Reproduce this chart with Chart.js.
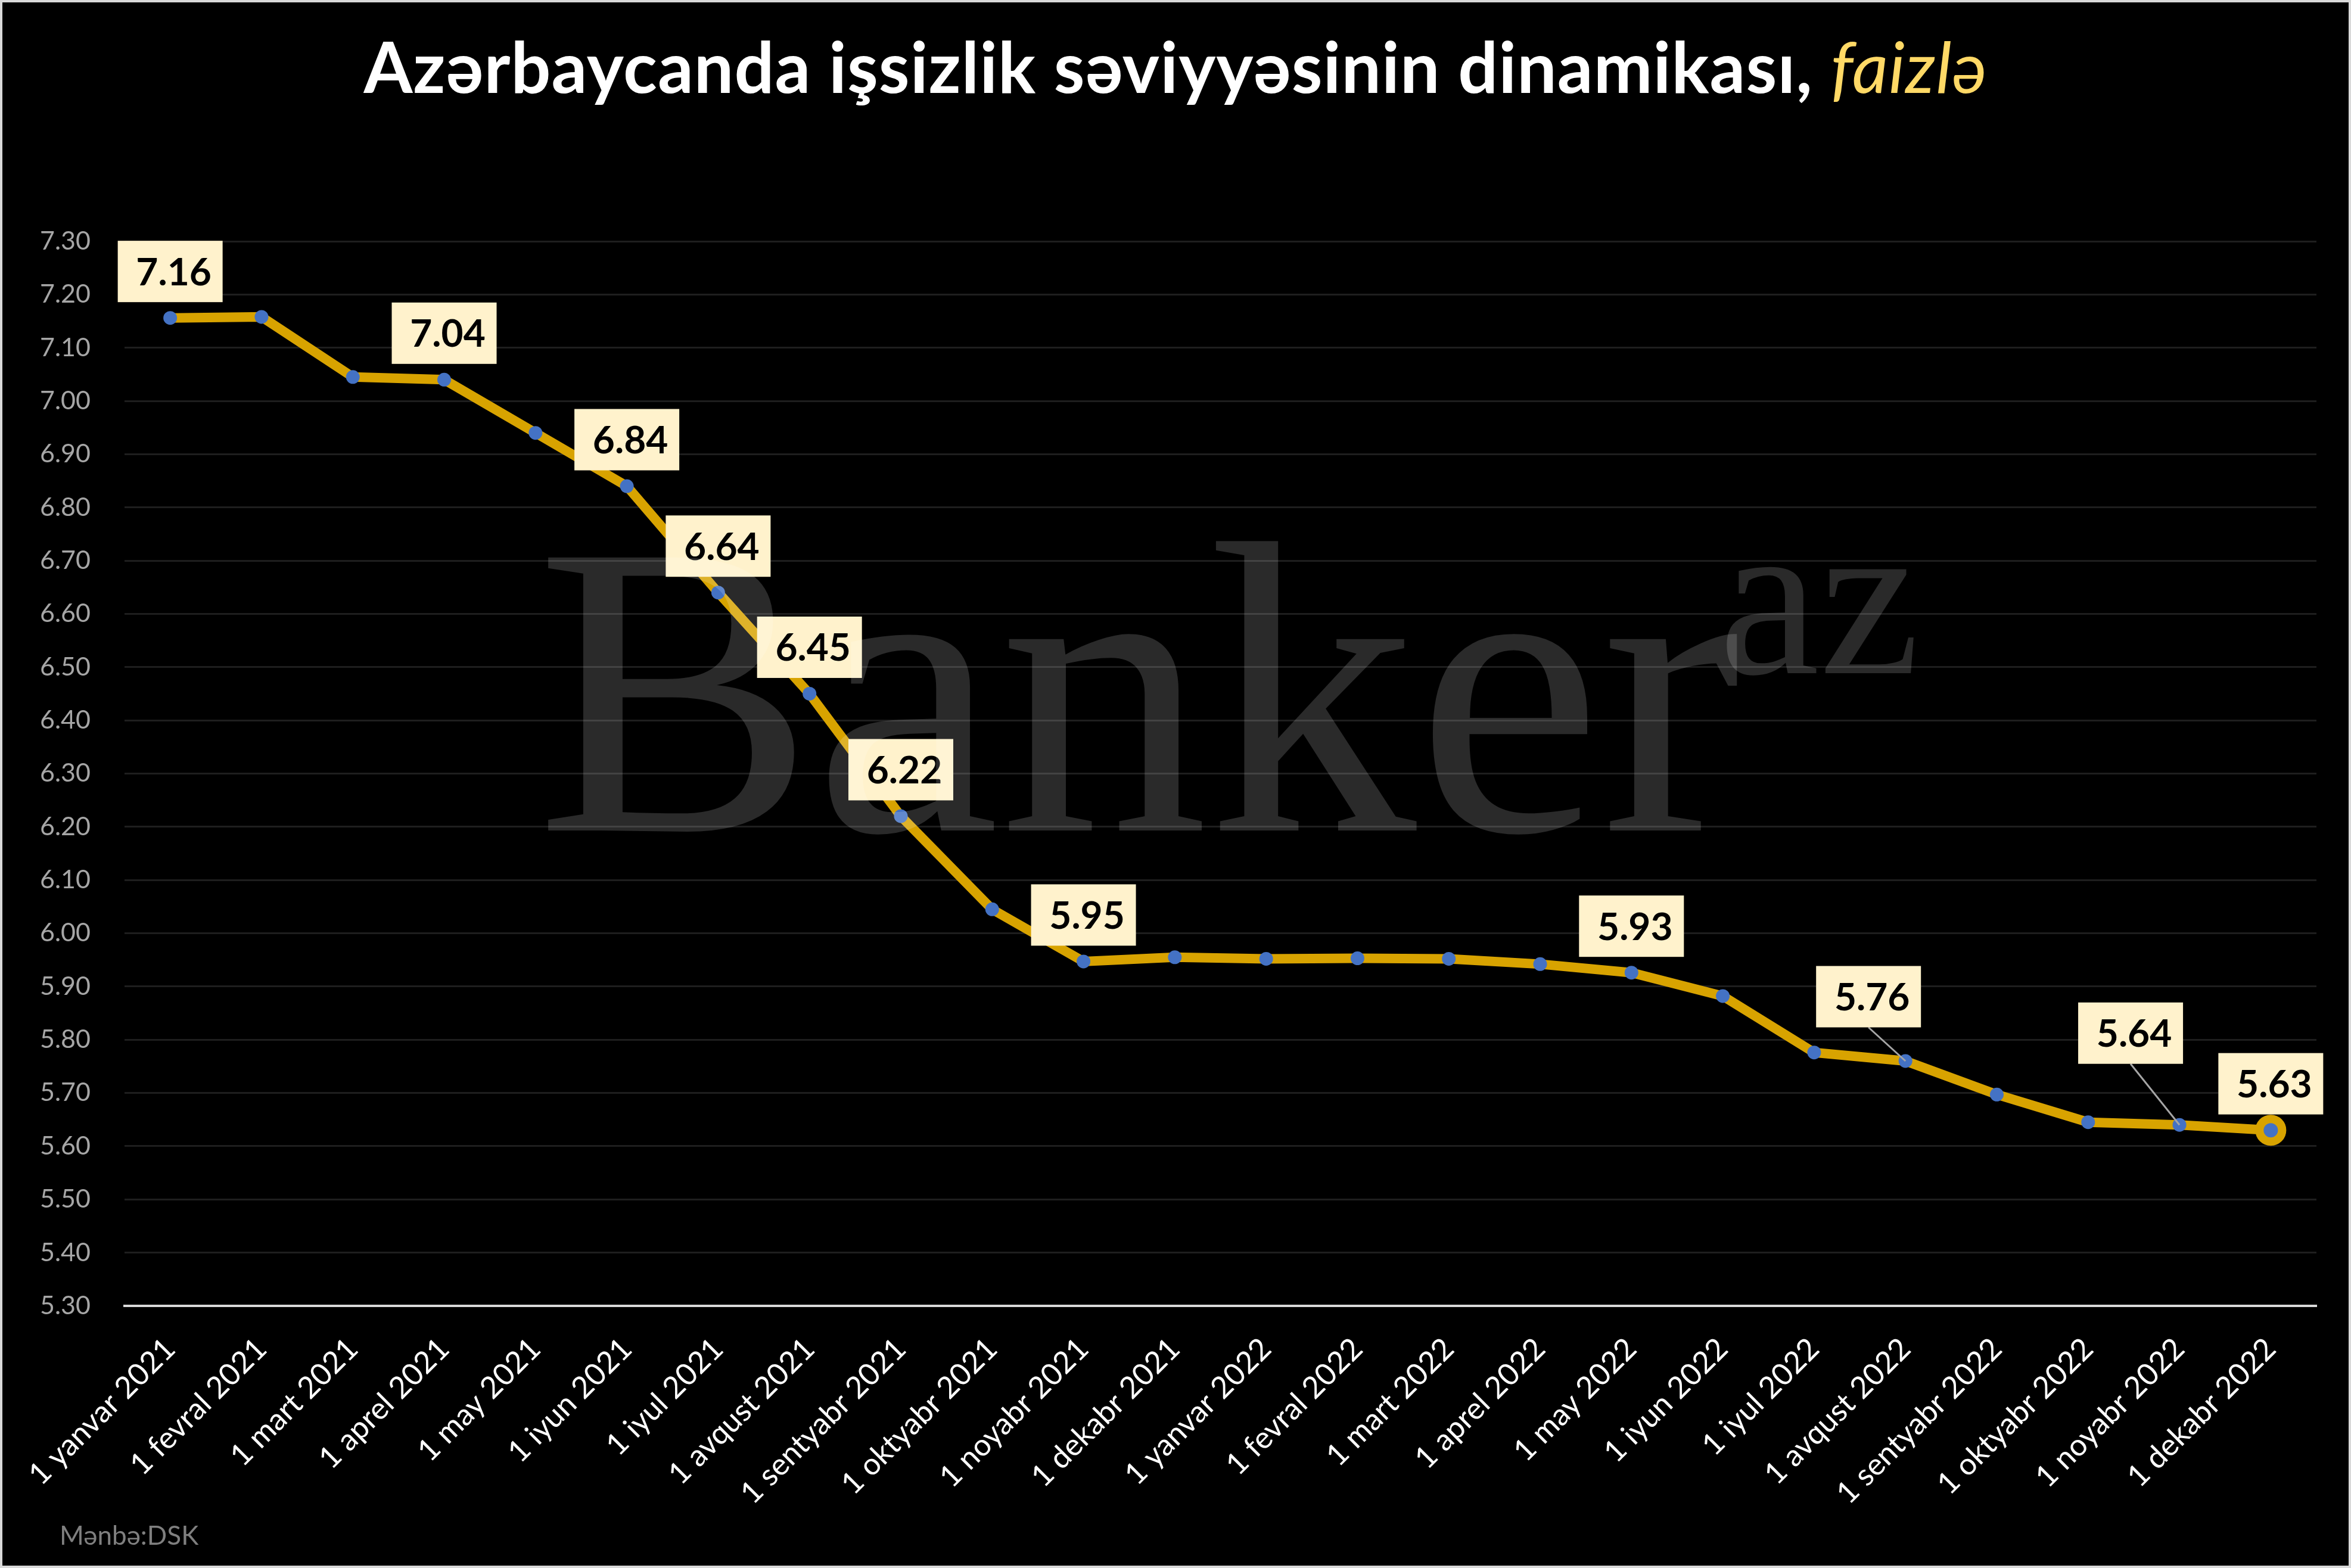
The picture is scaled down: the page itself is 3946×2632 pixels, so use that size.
<!DOCTYPE html>
<html>
<head>
<meta charset="utf-8">
<script src="https://cdn.jsdelivr.net/npm/chart.js"></script>
<style>
  html, body { margin: 0; padding: 0; background: #000; }
  #wrap { position: relative; width: 3946px; height: 2632px; background: #000; overflow: hidden; }
  #frame { position: absolute; left: 0; top: 0; width: 3938px; height: 2624px; border: 4px solid #d9d9d9; pointer-events: none; }
  #title { position: absolute; left: 0; top: 52px; width: 3946px; text-align: center;
           font-family: Lato, sans-serif; font-weight: bold; font-size: 118px; line-height: 118px; color: #fff; letter-spacing: 1px; }
  #title span { color: #ffd966; font-style: italic; font-weight: normal; }
  #source { position: absolute; left: 100px; top: 2554px; font-family: Lato, sans-serif; font-size: 44px; line-height: 44px; color: #7f7f7f; }
  .mark { position: absolute; font-family: "Liberation Serif", serif; color: rgba(255,255,255,0.165); pointer-events: none; white-space: nowrap; }
  #mark1 { left: 900px; top: 808px; font-size: 700px; line-height: 700px; }
  #mark2 { left: 2885px; top: 812px; font-size: 380px; line-height: 380px; }
</style>
</head>
<body>
<div id="wrap">
  <canvas id="myChart" width="3946" height="2632"></canvas>
  <div id="title">Azərbaycanda işsizlik səviyyəsinin dinamikası, <span>faizlə</span></div>
  <div id="source">Mənbə:DSK</div>
  <div class="mark" id="mark1">Banker</div>
  <div class="mark" id="mark2">az</div>
  <div id="frame"></div>
</div>
<script>
// DATA
const dateLabels = [
    '1 yanvar 2021', '1 fevral 2021', '1 mart 2021', '1 aprel 2021', '1 may 2021', '1 iyun 2021',
    '1 iyul 2021', '1 avqust 2021', '1 sentyabr 2021', '1 oktyabr 2021', '1 noyabr 2021', '1 dekabr 2021',
    '1 yanvar 2022', '1 fevral 2022', '1 mart 2022', '1 aprel 2022', '1 may 2022', '1 iyun 2022',
    '1 iyul 2022', '1 avqust 2022', '1 sentyabr 2022', '1 oktyabr 2022', '1 noyabr 2022', '1 dekabr 2022'
];
const unemployment = [
    7.156, 7.158, 7.045, 7.04, 6.94, 6.84, 6.64, 6.45, 6.22, 6.045, 5.947, 5.955,
    5.952, 5.953, 5.952, 5.942, 5.926, 5.882, 5.776, 5.76, 5.697, 5.645, 5.64, 5.63
];
// points that carry a value box
const labeledPoints = [0, 3, 5, 6, 7, 8, 10, 16, 19, 22, 23];
const yMin = 5.3;
const yMax = 7.3;
const yStep = 0.1;

// STYLE
const GOLD = '#d8a300';
const BLUE = '#4472c4';
const lastIndex = unemployment.length - 1;

// label box offsets from the point (box centre), leader line where the box is moved away
const boxOffsets = {
    19: { dx: -62, dy: -108, leader: true },
    22: { dx: -82, dy: -154, leader: true }
};

const valueBoxes = {
    id: 'valueBoxes',
    afterDatasetsDraw(chart) {
        const ctx = chart.ctx;
        const meta = chart.getDatasetMeta(0);
        const boxW = 176, boxH = 103;
        ctx.save();
        for (const i of labeledPoints) {
            const pt = meta.data[i];
            const off = boxOffsets[i] || { dx: 0, dy: -78 };
            const cx = pt.x + off.dx;
            const cy = pt.y + off.dy;

            if (off.leader) {
                ctx.strokeStyle = '#a6a6a6';
                ctx.lineWidth = 3;
                ctx.beginPath();
                ctx.moveTo(cx, cy + boxH / 2);
                ctx.lineTo(pt.x, pt.y);
                ctx.stroke();
            }

            ctx.fillStyle = '#fff2cc';
            ctx.fillRect(cx - boxW / 2, cy - boxH / 2, boxW, boxH);

            ctx.fillStyle = '#000';
            ctx.font = 'bold 64px Lato';
            ctx.textAlign = 'center';
            ctx.textBaseline = 'alphabetic';
            ctx.fillText(unemployment[i].toFixed(2), cx + 6, cy + 23);
        }
        ctx.restore();
    }
};

// Draw the chart
const ctx = document.getElementById('myChart').getContext('2d');
const myChart = new Chart(ctx, {
    type: 'line',
    data: {
        labels: dateLabels,
        datasets: [{
            label: 'İşsizlik səviyyəsi',
            data: unemployment,
            borderColor: GOLD,
            borderWidth: 16,
            tension: 0,
            fill: false,
            pointBackgroundColor: BLUE,
            pointBorderColor: unemployment.map((v, i) => i === lastIndex ? GOLD : BLUE),
            pointBorderWidth: unemployment.map((v, i) => i === lastIndex ? 14 : 0),
            pointRadius: unemployment.map((v, i) => i === lastIndex ? 19 : 11.5)
        }]
    },
    options: {
        responsive: false,
        animation: false,
        layout: { padding: { top: 405, right: 58, left: 0, bottom: 0 } },
        plugins: {
            legend: { display: false },
            tooltip: { enabled: false }
        },
        scales: {
            x: {
                offset: true,
                afterFit(scale) { scale.height = 440; },
                grid: { display: false },
                border: { display: true, color: '#d9d9d9', width: 4 },
                ticks: {
                    color: '#ffffff',
                    font: { family: 'Lato', size: 51 },
                    minRotation: 45,
                    maxRotation: 45,
                    autoSkip: false,
                    padding: 34
                }
            },
            y: {
                min: yMin,
                max: yMax,
                afterFit(scale) { scale.width = 209; },
                grid: { color: '#1e1e1e', lineWidth: 3, drawTicks: false },
                border: { display: false },
                ticks: {
                    stepSize: yStep,
                    color: '#a6a6a6',
                    font: { family: 'Lato', size: 43 },
                    padding: 57,
                    callback: (v) => Number(v).toFixed(2)
                }
            }
        }
    },
    plugins: [valueBoxes]
});
</script>
</body>
</html>
